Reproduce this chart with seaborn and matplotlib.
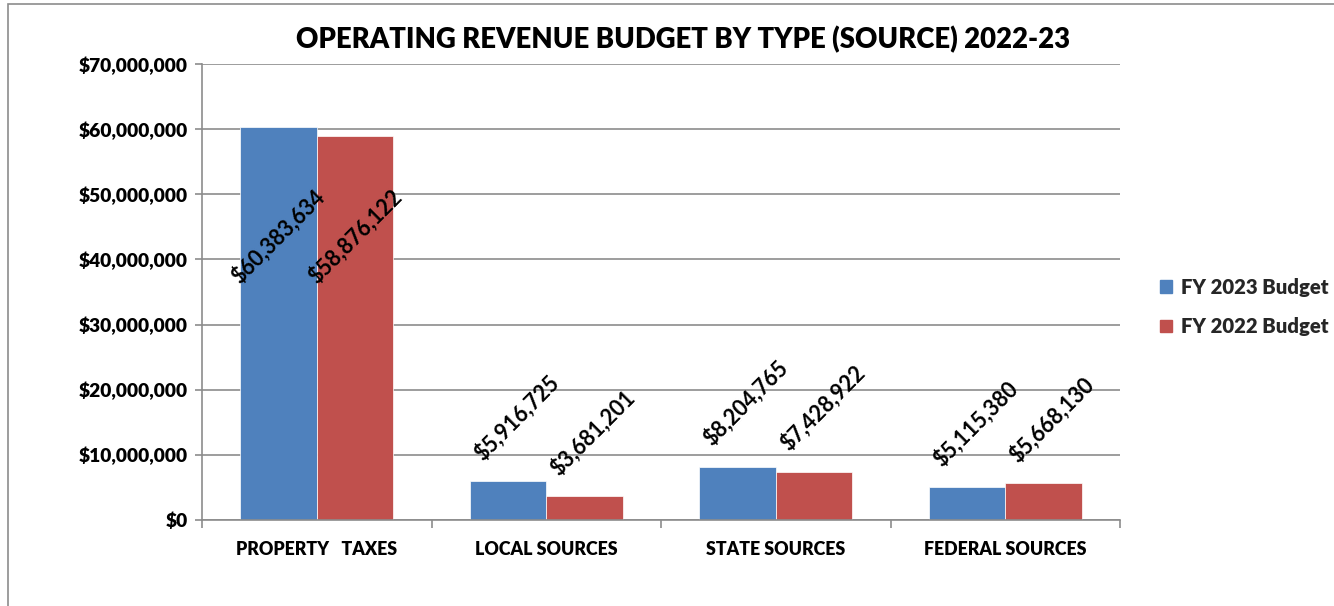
import pandas as pd
import matplotlib.pyplot as plt
import matplotlib.ticker as mticker
from matplotlib.patches import Rectangle
import seaborn as sns

# chart data
categories = ['PROPERTY   TAXES', 'LOCAL SOURCES', 'STATE SOURCES', 'FEDERAL SOURCES']
fy2023 = [60383634, 5916725, 8204765, 5115380]
fy2022 = [58876122, 3681201, 7428922, 5668130]
series = ['FY 2023 Budget', 'FY 2022 Budget']
colors = ['#4F81BD', '#C0504D']

df = pd.DataFrame({
    'category': categories * 2,
    'series': [series[0]] * 4 + [series[1]] * 4,
    'value': fy2023 + fy2022,
})

sns.set_style('white')
plt.rcParams['font.family'] = ['Lato', 'DejaVu Sans']
BOLD = 'heavy'

fig = plt.figure(figsize=(13.34, 6.06), dpi=100)
ax = fig.add_axes([202 / 1334, 1 - 520 / 606, (1120 - 202) / 1334, (520 - 64) / 606])

sns.barplot(data=df, x='category', y='value', hue='series', palette=colors, saturation=1,
            width=0.667, ax=ax, legend=False, edgecolor='white', linewidth=0.5)

ax.set_ylim(0, 70000000)
ax.set_xlim(-0.5, 3.5)
ax.yaxis.set_major_locator(mticker.MultipleLocator(10000000))
ax.yaxis.set_major_formatter(mticker.StrMethodFormatter('${x:,.0f}'))
ax.grid(axis='y', color='#8c8c8c', linewidth=1.2)
ax.set_axisbelow(True)
ax.set_xlabel('')
ax.set_ylabel('')

for s in ['top', 'right']:
    ax.spines[s].set_visible(False)
for s in ['left', 'bottom']:
    ax.spines[s].set_color('#8c8c8c')
    ax.spines[s].set_linewidth(1.2)

ax.tick_params(axis='y', which='major', left=True, length=5, color='#8c8c8c', width=1.2,
               labelsize=13.8, pad=5, labelcolor='black')
for lbl in ax.get_yticklabels():
    lbl.set_fontweight(BOLD)
ax.set_xticks(range(4))
ax.set_xticklabels(categories, fontsize=12.8, fontweight=BOLD, color='black')
ax.tick_params(axis='x', which='major', length=0, pad=15)
ax.set_xticks([-0.5, 0.5, 1.5, 2.5, 3.5], minor=True)
ax.tick_params(axis='x', which='minor', bottom=True, length=6, color='#8c8c8c', width=1.2)

# data labels
for i, cont in enumerate(ax.containers):
    vals = fy2023 if i == 0 else fy2022
    for bar, v in zip(cont, vals):
        txt = '${:,.0f}'.format(v)
        if v > 30000000:
            ax.text(bar.get_x() + bar.get_width() / 2, 43500000, txt, rotation=45,
                    ha='center', va='center', fontsize=15.5, color='black', fontweight='bold')
        else:
            ax.annotate(txt, (bar.get_x(), v), xytext=(0, 12), textcoords='offset points',
                        rotation=45, ha='left', va='bottom', fontsize=15.5, color='black',
                        fontweight='bold')

fig.text(0.512, 1 - 40 / 606, 'OPERATING REVENUE BUDGET BY TYPE (SOURCE) 2022-23',
         ha='center', va='center', fontsize=19.8, fontweight=BOLD, color='black')

handles = [Rectangle((0, 0), 1, 1, color=c) for c in colors]
leg = fig.legend(handles, series, loc='center left', bbox_to_anchor=(1160 / 1334, 1 - 307 / 606),
                 frameon=False, prop={'weight': BOLD, 'size': 14.6}, handlelength=0.6,
                 handleheight=0.6, handletextpad=0.45, labelspacing=1.0,
                 borderpad=0, borderaxespad=0)

# outer border
fig.patches.append(Rectangle((8 / 1334, -0.05), 1.1, 1 - 4 / 606 + 0.05, transform=fig.transFigure,
                             fill=False, edgecolor='#8c8c8c', linewidth=1.2))

fig.savefig('out.png', dpi=100)
